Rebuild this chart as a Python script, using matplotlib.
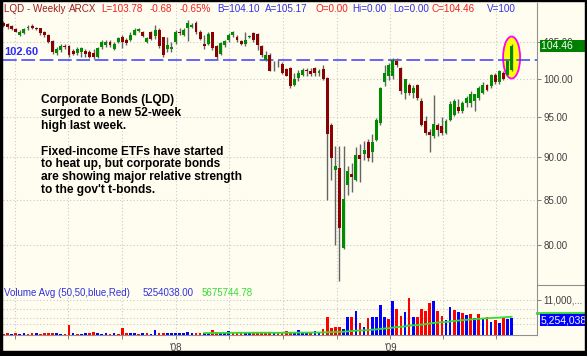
import matplotlib
matplotlib.use("Agg")
import matplotlib.pyplot as plt
import matplotlib.dates as mdates
import numpy as np
import pandas as pd
from matplotlib.patches import Ellipse, Rectangle
from matplotlib.lines import Line2D
from matplotlib.transforms import ScaledTranslation, offset_copy, blended_transform_factory
from matplotlib.ticker import FixedLocator, FuncFormatter, NullLocator

plt.rcParams['font.family'] = ['Liberation Sans', 'DejaVu Sans']

W, H = 587, 356
BG = '#fffdf0'


def fx(px):
    return px / W


def fy(py):
    return 1 - py / H


# weekly LQD bars, first week of March 2007
first_week = '2007-03-12'
opens = [107.8, 107.6, 107.3, 106.9, 106.1, 106.3, 107.0, 107.3, 107.1, 107.0,
         106.4, 106.1, 105.2, 103.5, 103.9, 104.5, 104.5, 103.8, 103.5, 103.6,
         103.8, 103.7, 103.5, 102.9, 104.3, 104.6, 105.0, 104.1, 105.1, 105.8,
         105.4, 105.4, 106.1, 106.6, 106.4, 105.0, 106.4, 105.9, 106.7, 105.7,
         104.0, 104.1, 105.0, 106.5, 106.1, 107.0, 107.2, 107.8, 106.5, 104.8,
         104.8, 106.4, 104.5, 103.4, 104.6, 105.3, 106.1, 105.8, 105.2, 104.8,
         105.7, 106.3, 106.2, 104.5, 102.6, 103.3, 101.8, 101.8, 102.0, 101.3,
         101.4, 99.2, 100.1, 100.5, 101.1, 101.1, 101.4, 100.7, 101.3, 100.1,
         94.0, 88.5, 88.7, 79.7, 86.7, 88.0, 87.3, 90.2, 90.4, 91.9,
         90.6, 92.1, 94.2, 99.5, 100.3, 100.3, 102.4, 101.5, 98.1, 99.2,
         98.1, 99.1, 97.0, 94.5, 93.1, 92.6, 94.0, 93.8, 93.0, 94.6,
         95.3, 96.3, 95.7, 96.8, 96.8, 97.0, 97.5, 98.1, 99.1, 99.0,
         100.5, 99.5, 100.8, 100.5, 101.2]
highs = [108.0, 107.8, 107.5, 107.0, 106.7, 107.1, 107.5, 107.6, 107.2, 107.1,
         106.6, 106.2, 105.4, 104.3, 104.7, 104.8, 104.6, 104.0, 104.3, 104.4,
         104.0, 103.9, 104.1, 104.3, 105.3, 105.4, 105.4, 105.0, 105.8, 106.0,
         105.6, 106.4, 107.0, 107.1, 106.6, 105.8, 106.6, 107.5, 107.0, 105.7,
         105.7, 105.0, 106.7, 107.0, 107.0, 108.2, 107.7, 108.0, 106.7, 106.1,
         106.4, 106.5, 104.6, 105.0, 105.3, 106.3, 106.6, 106.0, 105.4, 106.4,
         106.0, 106.5, 106.3, 104.6, 103.8, 103.5, 102.4, 102.6, 102.2, 101.4,
         101.6, 100.8, 101.2, 101.4, 101.5, 101.5, 101.6, 101.3, 101.9, 100.2,
         94.2, 91.4, 91.4, 91.3, 88.9, 89.3, 91.2, 91.6, 92.0, 92.2,
         92.8, 94.8, 98.9, 101.9, 102.1, 102.8, 102.8, 101.6, 100.0, 99.4,
         99.1, 99.3, 97.5, 95.1, 93.5, 97.8, 94.2, 95.0, 94.7, 97.0,
         97.3, 97.3, 97.0, 97.7, 98.3, 98.0, 99.0, 99.5, 99.3, 100.6,
         100.7, 101.2, 101.0, 102.6, 104.8]
lows = [107.2, 106.9, 106.7, 106.4, 105.9, 106.2, 106.8, 106.9, 106.7, 106.1,
        105.8, 104.9, 103.4, 103.3, 103.7, 104.1, 103.0, 103.2, 103.3, 103.0,
        103.0, 102.8, 102.7, 102.8, 104.1, 104.4, 104.3, 103.9, 104.9, 104.2,
        104.6, 105.2, 106.0, 106.4, 105.8, 104.9, 105.3, 105.5, 104.2, 103.0,
        103.7, 103.7, 104.8, 106.0, 105.9, 105.2, 107.0, 106.2, 105.3, 104.1,
        104.6, 103.9, 102.7, 103.3, 104.4, 105.1, 105.8, 105.1, 104.6, 104.5,
        105.6, 105.0, 103.9, 103.0, 102.4, 101.0, 101.1, 101.6, 100.6, 100.3,
        98.8, 99.0, 99.7, 100.3, 100.3, 100.3, 100.3, 100.4, 99.8, 85.0,
        87.3, 80.0, 76.2, 79.6, 85.5, 85.9, 87.2, 87.1, 89.6, 89.5,
        89.4, 92.0, 94.0, 99.0, 99.8, 100.0, 101.6, 98.0, 97.3, 97.8,
        97.5, 97.2, 93.8, 92.7, 90.6, 92.4, 92.6, 92.7, 92.8, 94.5,
        95.1, 95.5, 95.5, 96.3, 96.3, 95.7, 97.2, 97.9, 98.3, 98.7,
        99.3, 99.3, 99.8, 100.3, 101.0]
closes = [107.4, 107.2, 106.9, 106.5, 106.5, 106.9, 107.1, 107.1, 106.9, 106.3,
          106.0, 105.0, 103.7, 104.0, 104.5, 104.4, 103.2, 103.4, 104.1, 104.2,
          103.4, 102.9, 102.9, 104.2, 105.1, 105.0, 104.6, 104.8, 105.6, 105.0,
          104.9, 106.1, 106.8, 106.9, 105.9, 105.6, 105.5, 106.8, 104.5, 103.3,
          104.6, 104.4, 106.5, 106.3, 106.8, 107.8, 107.5, 106.4, 105.5, 104.5,
          106.2, 104.2, 102.9, 104.9, 105.2, 106.1, 106.4, 105.3, 104.8, 105.4,
          105.9, 105.3, 104.6, 103.2, 103.3, 101.1, 101.9, 101.9, 100.7, 100.4,
          99.0, 100.0, 100.8, 101.2, 101.0, 100.6, 100.8, 101.0, 99.9, 92.8,
          89.9, 88.9, 81.8, 85.1, 88.3, 87.6, 90.3, 89.8, 90.9, 89.9,
          91.9, 94.6, 98.7, 100.8, 101.9, 102.6, 101.8, 98.3, 99.9, 98.1,
          98.7, 97.5, 94.0, 93.0, 92.7, 94.1, 93.4, 93.0, 94.5, 96.6,
          97.0, 95.7, 96.8, 97.5, 97.9, 97.9, 98.8, 99.2, 98.5, 100.5,
          99.5, 101.0, 100.0, 102.4, 104.46]

# weekly volume, millions of shares, and bar colour (b = blue, r = red)
volume_m = [0.4, 0.5, 0.4, 0.5, 0.4, 0.5, 0.4, 0.5, 0.6, 0.4,
            0.5, 0.5, 0.6, 0.5, 0.4, 0.4, 3.1, 0.5, 0.4, 0.4,
            0.5, 0.5, 0.9, 0.5, 0.4, 0.5, 0.4, 0.5, 0.4, 2.1,
            0.6, 0.5, 0.5, 0.4, 0.5, 0.5, 0.4, 1.5, 0.5, 0.7,
            0.6, 0.5, 0.7, 0.6, 0.5, 0.8, 0.6, 0.5, 0.6, 0.5,
            0.7, 1.5, 1.0, 0.5, 0.6, 1.35, 0.7, 0.9, 0.7, 0.7,
            0.6, 0.8, 0.8, 0.7, 0.8, 0.9, 0.6, 0.7,
            1.0, 1.25, 0.7, 1.0, 1.55, 0.8, 0.7, 0.8, 1.35, 0.8,
            1.8, 5.7, 2.1, 2.6, 2.6, 1.8, 5.7, 5.5, 7.5, 3.85,
            2.6, 5.2, 5.7, 5.7, 9.4, 5.7, 4.9, 10.6, 8.0, 5.9,
            7.3, 11.7, 5.5, 5.5, 8.0, 7.5, 9.9, 10.6, 7.6, 5.9,
            4.7, 8.85, 7.8, 7.1, 6.8, 6.25, 6.45, 5.2, 6.55, 5.2,
            5.7, 4.2, 4.7, 3.65, 5.7, 5.0, 5.254038]
vol_side = ("rrbrbbrrbr" "rrrbbrrbrb" "brrbbbrbrr" "rbbrbrbbrr" "bbbbbbbrrb"
            "brrbbbrrrb" "brrrrrbr"
            "rrrbbbbrbb" "rrrrrbbrbr" "brbbbbrbrr" "brbrrrrbrr" "bbrbrbrbrb"
            "rbrbrbb")
avg_len = 50
support = 102.60
price_ticks = [80, 85, 90, 95, 100, 105]
vol_ticks = [11e6]

header = [("LQD - Weekly", '#9b1b1b', 3.5), ("ARCX", '#9b1b1b', 69),
          ("L=103.78", '#f02020', 101.5), ("-0.68", '#f02020', 150),
          ("-0.65%", '#f02020', 180), ("B=104.10", '#3030e0', 217),
          ("A=105.17", '#3030e0', 265), ("O=0.00", '#f02020', 315),
          ("Hi=0.00", '#3030e0', 352.5), ("Lo=0.00", '#3030e0', 393),
          ("C=104.46", '#f02020', 431.5), ("V=100", '#3030e0', 486.5)]
vol_legend = [("Volume Avg (50,50,blue,Red)", '#3030e0', 3.5),
              ("5254038.00", '#3030e0', 143), ("5675744.78", '#33dd33', 202)]
note = ["Corporate Bonds (LQD)", "surged to a new 52-week", "high last week.", "",
        "Fixed-income ETFs have started", "to heat up, but corporate bonds",
        "are showing major relative strength", "to the gov't t-bonds."]

dates = pd.date_range(first_week, periods=len(closes), freq='W-MON')
x = mdates.date2num(dates)
o, h, l, c = (np.array(v) for v in (opens, highs, lows, closes))
vol = np.array(volume_m) * 1e6
vol_avg = pd.Series(vol).rolling(avg_len).mean()

fig = plt.figure(figsize=(W / 100, H / 100), dpi=100, facecolor=BG)
ax = fig.add_axes([fx(3), fy(285), fx(537) - fx(3), 282 / H], facecolor=BG)
axv = fig.add_axes([fx(3), fy(335), fx(537) - fx(3), 50 / H], facecolor=BG, sharex=ax)

# candles
up = c >= o
ax.vlines(x, l, h, color='#646464', lw=1.0, zorder=4)
ax.bar(x, np.maximum(np.abs(c - o), 0.12), bottom=np.minimum(o, c), width=5.0,
       color=np.where(up, '#008c00', '#8b0000'), linewidth=0, zorder=5)
ax.axhline(support, color='#3c3cff', lw=1.1, dashes=(9, 3), zorder=3)
ax.annotate(f"{support:.2f}", xy=(0, support), xycoords=('axes fraction', 'data'),
            xytext=(1, 5.5), textcoords='offset points', color='#2a2aff',
            fontsize=8, fontweight='bold', va='center', ha='left')

# highlight the last bar
mark = fig.dpi_scale_trans + ScaledTranslation(x[-1], np.sqrt(h[-1] * l[-1]), ax.transData)
ax.add_patch(Ellipse((0, 0), 0.17, 0.42, transform=mark, facecolor='#ffff00',
                     edgecolor='#ff00ff', lw=1.3, zorder=2))

ax.set_yscale('log')
ax.set_ylim(75.8, 110.7)
ax.set_xlim(x[0] - 0.7, x[0] + 130.2 * 7)
ax.yaxis.tick_right()
ax.yaxis.set_major_locator(FixedLocator(price_ticks))
ax.yaxis.set_minor_locator(NullLocator())
ax.yaxis.set_major_formatter(FuncFormatter(lambda v, p: f"{v:.2f}"))
ax.tick_params(axis='y', labelsize=7, labelcolor='#404040', color='#808080',
               length=3, width=0.7, pad=1.5)
ax.tick_params(axis='x', which='both', bottom=False, labelbottom=False)

quarters = mdates.MonthLocator(bymonth=[1, 4, 7, 10])
axv.xaxis.set_major_locator(quarters)
axv.xaxis.set_major_formatter(FuncFormatter(
    lambda v, p: mdates.num2date(v).strftime("'%y") if mdates.num2date(v).month == 1 else ''))

grid_kw = dict(color='#c8c8c8', linestyle=(0, (1, 2)), linewidth=0.8)
ax.grid(True, **grid_kw)
axv.grid(True, which='both', **grid_kw)
ax.set_axisbelow(True)
axv.set_axisbelow(True)

# volume
axv.bar(x, vol, width=4.6, color=np.where(np.array(list(vol_side)) == 'b', '#0000ff', '#ff0000'),
        linewidth=0, zorder=3)
axv.plot(x, vol_avg, color='#33dd33', lw=1.3, zorder=4)
axv.set_ylim(0, 15.6e6)
axv.yaxis.tick_right()
axv.yaxis.set_major_locator(FixedLocator(vol_ticks))
axv.yaxis.set_minor_locator(FixedLocator([3.5e6, 5.2e6, 8e6]))
axv.yaxis.set_major_formatter(FuncFormatter(lambda v, p: f"{v / 1e6:,.0f},000,..."))
axv.tick_params(axis='y', which='minor', length=0)
axv.tick_params(axis='y', which='major', labelsize=7, labelcolor='#404040',
                color='#808080', length=3, width=0.7, pad=1.5)
axv.tick_params(axis='x', labelsize=7, labelcolor='#404040', color='#808080',
                length=3, width=0.7, pad=3)

for a in (ax, axv):
    for side in ('top', 'left'):
        a.spines[side].set_visible(False)
    a.spines['right'].set_color('#909090')
ax.spines['bottom'].set_visible(False)
axv.spines['bottom'].set_color('#909090')

# last-value boxes on the right scale
ax.annotate(f"{c[-1]:.2f}    ", xy=(1, c[-1]), xycoords=('axes fraction', 'data'),
            xytext=(4, 0), textcoords='offset pixels', color='white', fontsize=7.5,
            va='center', ha='left', annotation_clip=False, zorder=10,
            bbox=dict(boxstyle='square,pad=0.12', fc='#008000', ec='none'))
side_t = blended_transform_factory(axv.transAxes, axv.transData)
axv.plot([1, 1.1], [vol_avg.iloc[-1]] * 2, color='#33dd33', lw=2,
         transform=offset_copy(side_t, fig=fig, y=4, units='dots'), clip_on=False)
axv.annotate(f"{vol[-1]:,.0f}", xy=(1, vol[-1]), xycoords=('axes fraction', 'data'),
             xytext=(4, -2), textcoords='offset pixels', color='white', fontsize=7.5,
             va='center', ha='left', annotation_clip=False, zorder=10,
             bbox=dict(boxstyle='square,pad=0.12', fc='#0000ff', ec='none'))

# header and labels
for txt, col, px in header:
    fig.text(fx(px), fy(9), txt, color=col, fontsize=7.1, va='center', ha='left')
for i, line in enumerate(note):
    fig.text(fx(41), fy(100 + 12.9 * i), line, fontsize=8.6, fontweight='bold',
             va='center', ha='left', color='black')
for txt, col, px in vol_legend:
    fig.text(fx(px), fy(292.5), txt, color=col, fontsize=7, va='center', ha='left')

# frame
fig.add_artist(Line2D([fx(537), 1], [fy(285), fy(285)], color='#909090', lw=0.8))
for rect in [(0, 0, fx(1.8), 1), (0, 0, 1, 5 / H), (0, fy(1.2), 1, 1.2 / H), (fx(585), 0, 2 / W, 1)]:
    fig.add_artist(Rectangle(rect[:2], rect[2], rect[3], transform=fig.transFigure,
                             color='black', zorder=20))

fig.savefig('out.png', dpi=100, facecolor=BG)
